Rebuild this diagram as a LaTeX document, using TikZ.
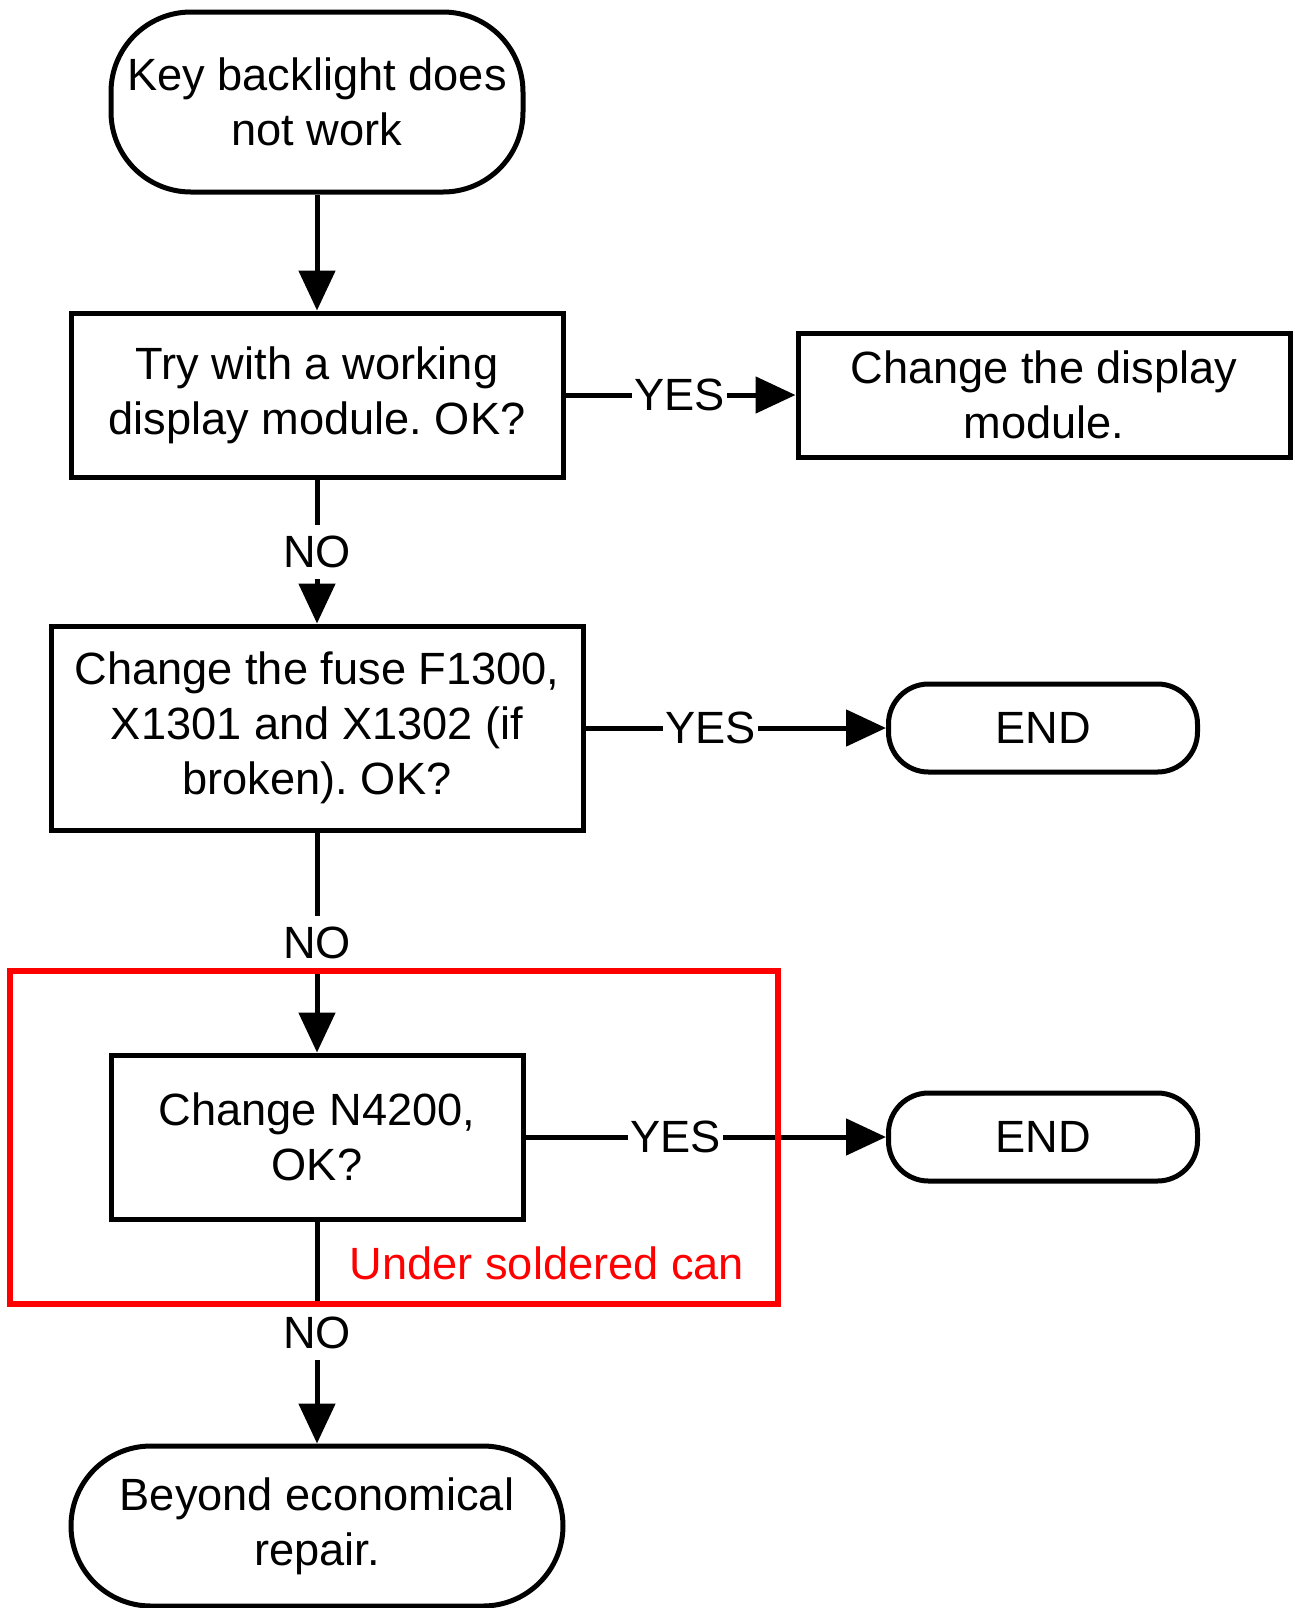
\documentclass[tikz,border=0pt]{standalone}
\usepackage{fontspec}
\setmainfont{Liberation Sans}
\usetikzlibrary{arrows.meta}
\frenchspacing
\begin{document}
\begin{tikzpicture}[x=0.5pt,y=-0.5pt,
  every node/.style={font=\fontsize{22.6pt}{27.5pt}\selectfont},
  stepbox/.style={draw,line width=2.5pt,align=center,inner sep=0pt},
  term/.style={stepbox,rounded corners=40pt},
  endterm/.style={stepbox,rounded corners=20pt,minimum width=154.5pt,minimum height=44pt},
  conn/.style={line width=2.5pt,-{Triangle[length=20pt,width=18pt]}},
  lbl/.style={fill=white,inner xsep=1pt,inner ysep=5.5pt},
  canbox/.style={draw=red,line width=3.2pt},
]
\useasboundingbox (0,0) rectangle (1295,1608);

% flow steps
\node[term,minimum width=206pt,minimum height=90pt] (start) at (317,102) {Key backlight does\\not work};
\node[stepbox,minimum width=246pt,minimum height=82pt] (try) at (317,395) {Try with a working\\display module. OK?};
\node[stepbox,minimum width=246pt,minimum height=62pt] (disp) at (1044,395) {Change the display\\module.};
\node[stepbox,minimum width=266pt,minimum height=102pt] (fuse) at (317,728) {Change the fuse F1300,\\X1301 and X1302 (if\\broken). OK?};
\node[endterm] (end1) at (1043,728) {END};
\node[stepbox,minimum width=206pt,minimum height=82pt] (chip) at (317,1137) {Change N4200,\\OK?};
\node[endterm] (end2) at (1043,1137) {END};
\node[term,minimum width=246pt,minimum height=80pt] (ber) at (317,1526) {Beyond economical\\repair.};

% connectors
\draw[conn] (start) -- (try);
\draw[conn] (try) -- node[lbl,pos=0.496]{YES} (disp);
\draw[conn] (try) -- node[lbl]{NO} (fuse);
\draw[conn] (fuse) -- node[lbl,pos=0.416]{YES} (end1);
\draw[conn] (fuse) -- node[lbl]{NO} (chip);
\draw[conn] (chip) -- node[lbl,pos=0.416]{YES} (end2);
\draw[conn] (chip) -- node[lbl]{NO} (ber);

% area under the soldered can
\draw[canbox] (10,971) rectangle (778,1304);
\node[red,inner sep=0pt] (can) at (547,1263) {Under soldered can};
\end{tikzpicture}
\end{document}
